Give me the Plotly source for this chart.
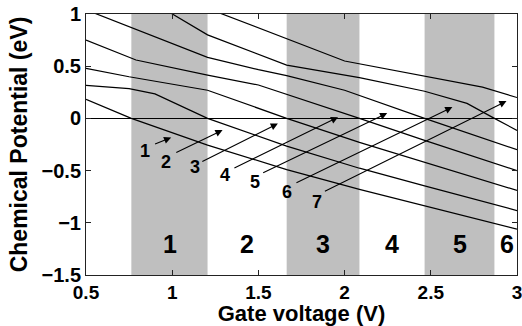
import plotly.graph_objects as go

# ---- data ----
band_start = [0.763, 1.664, 2.464]          # shaded gate-voltage regions
band_end = [1.205, 2.086, 2.869]
region_labels = ["1", "2", "3", "4", "5", "6"]
region_x = [0.985, 1.431, 1.877, 2.274, 2.670, 2.943]
region_y = [-1.20, -1.20, -1.20, -1.20, -1.20, -1.20]

lvl1_v = [0.5, 0.763, 1.205, 1.664, 2.086, 2.464, 3.0]
lvl1_mu = [0.182, 0.0, -0.256, -0.49, -0.68, -0.84, -1.06]
lvl2_v = [0.5, 0.75, 0.9, 1.205, 1.664, 2.086, 2.464, 3.0]
lvl2_mu = [0.316, 0.285, 0.235, 0.0, -0.266, -0.477, -0.647, -0.883]
lvl3_v = [0.5, 0.75, 1.205, 1.664, 2.086, 2.464, 2.869, 3.0]
lvl3_mu = [0.48, 0.399, 0.27, 0.0, -0.23, -0.42, -0.62, -0.69]
lvl4_v = [0.5, 0.79, 1.205, 1.5, 2.086, 2.464, 3.0]
lvl4_mu = [0.751, 0.559, 0.415, 0.32, 0.0, -0.21, -0.50]
lvl5_v = [0.5, 1.205, 1.5, 1.664, 2.0, 2.464, 3.0]
lvl5_mu = [1.04, 0.585, 0.467, 0.41, 0.27, 0.0, -0.30]
lvl6_v = [0.95, 1.205, 1.664, 2.086, 2.464, 2.71, 2.869, 3.0]
lvl6_mu = [1.05, 0.80, 0.51, 0.39, 0.26, 0.144, 0.0, -0.115]
lvl7_v = [1.205, 1.664, 2.0, 2.8, 3.0]
lvl7_mu = [1.054, 0.765, 0.55, 0.30, 0.20]

arrow_labels = ["1", "2", "3", "4", "5", "6", "7"]
arrow_tip_x = [0.994, 1.292, 1.613, 1.962, 2.247, 2.625, 2.939]
arrow_tip_y = [-0.184, -0.112, -0.050, 0.012, 0.051, 0.108, 0.166]
arrow_tail_x = [0.892, 1.015, 1.166, 1.352, 1.519, 1.712, 1.877]
arrow_tail_y = [-0.251, -0.333, -0.419, -0.481, -0.527, -0.623, -0.704]
label_x = [0.844, 0.966, 1.131, 1.305, 1.480, 1.664, 1.838]
label_y = [-0.313, -0.419, -0.467, -0.544, -0.608, -0.704, -0.800]

x_ticks = [0.5, 1, 1.5, 2, 2.5, 3]
y_ticks = [-1.5, -1, -0.5, 0, 0.5, 1]

FONT = "Liberation Sans, Arial, Helvetica, sans-serif"

fig = go.Figure()

levels = [(lvl1_v, lvl1_mu), (lvl2_v, lvl2_mu), (lvl3_v, lvl3_mu), (lvl4_v, lvl4_mu),
          (lvl5_v, lvl5_mu), (lvl6_v, lvl6_mu), (lvl7_v, lvl7_mu)]
for v, mu in levels:
    fig.add_trace(go.Scatter(x=v, y=mu, mode="lines",
                             line=dict(color="black", width=1.2),
                             showlegend=False, hoverinfo="skip"))

for x0, x1 in zip(band_start, band_end):
    fig.add_shape(type="rect", xref="x", yref="paper", x0=x0, x1=x1, y0=0, y1=1,
                  fillcolor="#bfbfbf", line=dict(width=0), layer="below")

for t, x, y in zip(region_labels, region_x, region_y):
    fig.add_annotation(x=x, y=y, text=t, showarrow=False,
                       font=dict(family=FONT, size=25, color="black", weight="bold"))

for tx, ty, ax, ay in zip(arrow_tip_x, arrow_tip_y, arrow_tail_x, arrow_tail_y):
    fig.add_annotation(x=tx, y=ty, ax=ax, ay=ay, xref="x", yref="y",
                       axref="x", ayref="y", text="", showarrow=True,
                       arrowhead=2, arrowsize=1.3, arrowwidth=1.1, arrowcolor="black",
                       standoff=0, startstandoff=0)

for t, x, y in zip(arrow_labels, label_x, label_y):
    fig.add_annotation(x=x, y=y, text=t, showarrow=False,
                       font=dict(family=FONT, size=18, color="black", weight="bold"))

axis_common = dict(showgrid=False, showline=True, linecolor="#222", linewidth=1,
                   mirror="ticks", ticks="inside", ticklen=5, tickcolor="#222",
                   ticklabeloverflow="allow", automargin=False)

fig.update_xaxes(range=[0.5, 3], tickvals=x_ticks, ticktext=[str(v) for v in x_ticks],
                 zeroline=False,
                 tickfont=dict(family=FONT, size=19, color="black", weight="bold"),
                 title=dict(text="Gate voltage (V)", standoff=5,
                            font=dict(family=FONT, size=22, color="black", weight="bold")),
                 **axis_common)
fig.update_yaxes(range=[-1.5, 1], tickvals=y_ticks,
                 ticktext=["\u22121.5", "\u22121", "\u22120.5", "0", "0.5", "1"],
                 zeroline=True, zerolinecolor="black", zerolinewidth=1.2,
                 tickfont=dict(family=FONT, size=20, color="black", weight="bold"),
                 title=dict(text="Chemical Potential (eV)", standoff=7,
                            font=dict(family=FONT, size=23, color="black", weight="bold")),
                 **axis_common)

fig.update_layout(template="none", width=522, height=326,
                  margin=dict(l=86, r=5, t=14, b=51),
                  plot_bgcolor="white", paper_bgcolor="white",
                  showlegend=False)

fig.write_html("out.html", config={"displayModeBar": False},
               post_script="document.body.style.margin='0';document.body.style.overflow='hidden';")
